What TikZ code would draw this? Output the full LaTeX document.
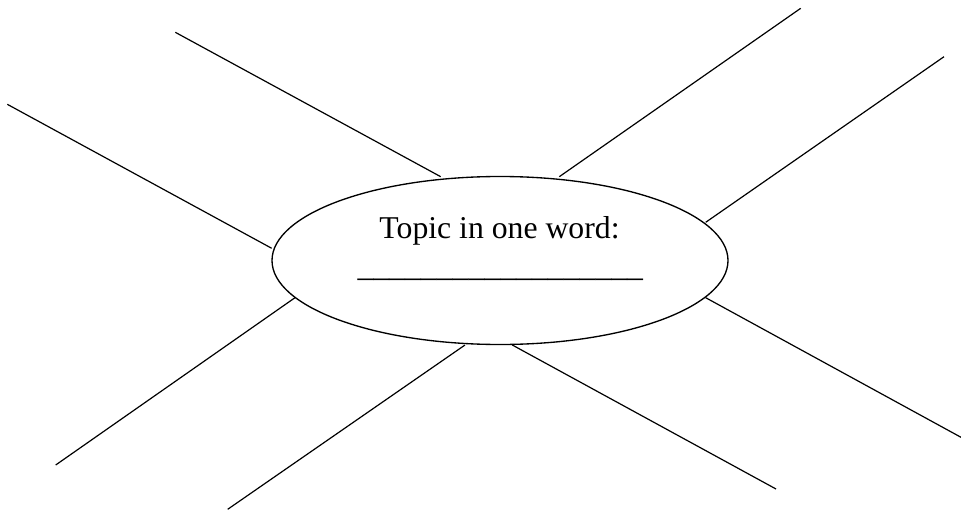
\documentclass[tikz,border=0pt]{standalone}
\usepackage{fontspec}
\setmainfont{Liberation Serif}
\usetikzlibrary{shapes.geometric}
\tikzset{
  spoke/.style={line width=0.9pt, line cap=butt},
  topicell/.style={draw, ellipse, line width=1pt, inner sep=0pt, minimum width=342pt, minimum height=126pt},
  label/.style={inner sep=0pt, anchor=base, font=\fontsize{23.8pt}{28pt}\selectfont}
}
\begin{document}
\begin{tikzpicture}[x=0.75pt,y=-0.75pt]
\useasboundingbox (0,0) rectangle (961,510);
\node[topicell] (ell) at (500,260.5) {};
\node[label] (topic) at (499.5,238.5) {Topic in one word:};
\node[label] (blank) at (500.3,276.5) {\_\_\_\_\_\_\_\_\_\_\_\_\_\_\_\_\_\_};
% spoke end points
\coordinate (a1) at (440.7,176.7); \coordinate (a2) at (175.3,32.3);
\coordinate (b1) at (271.7,248.3); \coordinate (b2) at (7.3,104.3);
\coordinate (c1) at (559.3,176.7); \coordinate (c2) at (800.7,8.3);
\coordinate (d1) at (705.7,222.3); \coordinate (d2) at (944,56.7);
\coordinate (e1) at (295,297.7);   \coordinate (e2) at (55.7,465);
\coordinate (f1) at (465,345);     \coordinate (f2) at (227.7,509.3);
\coordinate (g1) at (512.3,345);   \coordinate (g2) at (776,489);
\coordinate (h1) at (705.7,297.7); \coordinate (h2) at (961,437.3);
\foreach \p in {a,b,c,d,e,f,g,h}{\draw[spoke] (\p1) -- (\p2);}
\end{tikzpicture}
\end{document}
